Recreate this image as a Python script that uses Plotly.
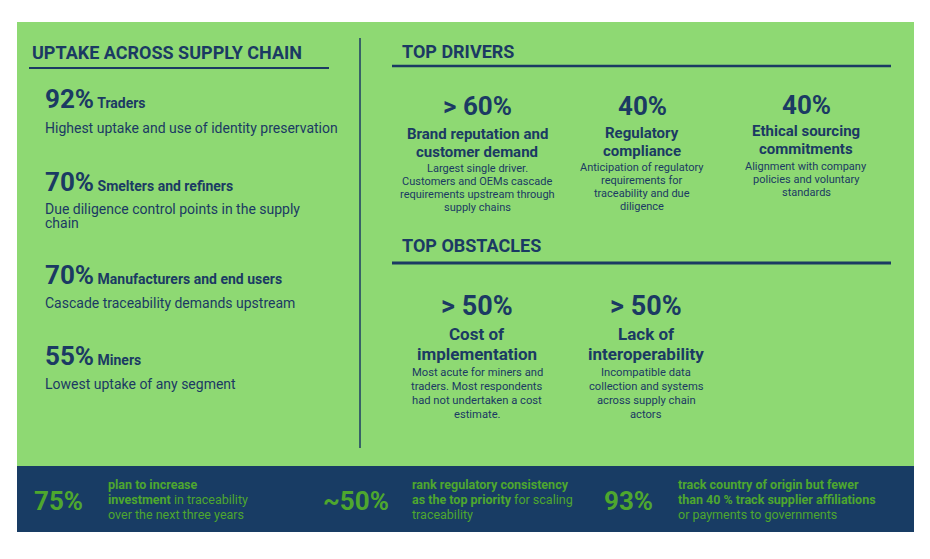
import plotly.graph_objects as go

# ---------------- data ----------------
uptake_pcts = ["92%", "70%", "70%", "55%"]
uptake_segments = ["Traders", "Smelters and refiners", "Manufacturers and end users", "Miners"]
uptake_notes = [
    "Highest uptake and use of identity preservation",
    "Due diligence control points in the supply\nchain",
    "Cascade traceability demands upstream",
    "Lowest uptake of any segment",
]

driver_pcts = ["> 60%", "40%", "40%"]
driver_titles = ["Brand reputation and\ncustomer demand", "Regulatory\ncompliance", "Ethical sourcing\ncommitments"]
driver_notes = [
    "Largest single driver.\nCustomers and OEMs cascade\nrequirements upstream through\nsupply chains",
    "Anticipation of regulatory\nrequirements for\ntraceability and due\ndiligence",
    "Alignment with company\npolicies and voluntary\nstandards",
]

obstacle_pcts = ["> 50%", "> 50%"]
obstacle_titles = ["Cost of\nimplementation", "Lack of\ninteroperability"]
obstacle_notes = [
    "Most acute for miners and\ntraders. Most respondents\nhad not undertaken a cost\nestimate.",
    "Incompatible data\ncollection and systems\nacross supply chain\nactors",
]

stat_values = ["75%", "~50%", "93%"]
stat_texts = [
    "<b>plan to increase</b>\n<b>investment</b> in traceability\nover the next three years",
    "<b>rank regulatory consistency</b>\n<b>as the top priority</b> for scaling\ntraceability",
    "<b>track country of origin but fewer</b>\n<b>than 40 % track supplier affiliations</b>\nor payments to governments",
]

section_titles = ["UPTAKE ACROSS SUPPLY CHAIN", "TOP DRIVERS", "TOP OBSTACLES"]

# ---------------- style ----------------
W, H = 930, 559
GREEN_BG = "#8ED973"
NAVY = "#1B3A63"
BAND = "#183C64"
BAND_GREEN = "#4EA72E"
FONT = "Roboto"

fig = go.Figure()
shapes = []
ann = []


def text(x, y, s, size, color=NAVY, bold=False, xanchor="left", family=FONT):
    if bold:
        s = "<b>" + s + "</b>"
    ann.append(dict(x=x, y=y, xref="x", yref="y", text=s, showarrow=False,
                    xanchor=xanchor, yanchor="middle", borderpad=0,
                    font=dict(family=family, size=size, color=color)))


def line(x0, y0, x1, y1, width, color=NAVY):
    shapes.append(dict(type="line", xref="x", yref="y", x0=x0, y0=y0, x1=x1, y1=y1,
                       line=dict(color=color, width=width)))


# backgrounds
shapes.append(dict(type="rect", xref="x", yref="y", x0=17, y0=22, x1=914, y1=466,
                   fillcolor=GREEN_BG, line=dict(width=0), layer="below"))
shapes.append(dict(type="rect", xref="x", yref="y", x0=17, y0=466, x1=914, y1=532,
                   fillcolor=BAND, line=dict(width=0), layer="below"))

# dividers
line(360, 38, 360, 448, 1.5)
line(29, 68, 329, 68, 2)
line(392, 66, 891, 66, 2.5)
line(392, 263, 891, 263, 3)

# section titles
text(31, 52, section_titles[0], 18, bold=True)
text(401, 51, section_titles[1], 18, bold=True)
text(401, 245, section_titles[2], 18, bold=True)

# uptake column
row_y = [99, 182, 275, 356]
note_y = [128, 208.5, 303, 384]
for i in range(len(uptake_pcts)):
    s = ("<b><span style='font-size:26px'>" + uptake_pcts[i] + "</span> "
         + uptake_segments[i] + "</b>")
    text(44, row_y[i], s, 14)
    for j, ln in enumerate(uptake_notes[i].split("\n")):
        text(44, note_y[i] + j * 14, ln, 14)

# drivers
drv_x = [477, 642, 806]
drv_pct_y = [106, 106, 105]
drv_title_y = [134, 133, 131]
drv_note_y = [168, 167, 166]
for i in range(len(driver_pcts)):
    text(drv_x[i], drv_pct_y[i], driver_pcts[i], 26, bold=True, xanchor="center")
    for j, ln in enumerate(driver_titles[i].split("\n")):
        text(drv_x[i], drv_title_y[i] + j * 18, ln, 15, bold=True, xanchor="center")
    for j, ln in enumerate(driver_notes[i].split("\n")):
        text(drv_x[i], drv_note_y[i] + j * 13.3, ln, 11, xanchor="center")

# obstacles
obs_x = [477, 646]
for i in range(len(obstacle_pcts)):
    text(obs_x[i], 306, obstacle_pcts[i], 27, bold=True, xanchor="center")
    for j, ln in enumerate(obstacle_titles[i].split("\n")):
        text(obs_x[i], 334 + j * 20, ln, 17, bold=True, xanchor="center")
    for j, ln in enumerate(obstacle_notes[i].split("\n")):
        text(obs_x[i], 372 + j * 14, ln, 11.2, xanchor="center")

# bottom band
val_x = [33, 322, 603]
txt_x = [107, 411, 677]
for i in range(len(stat_values)):
    text(val_x[i], 501, stat_values[i], 26, color=BAND_GREEN, bold=True)
    for j, ln in enumerate(stat_texts[i].split("\n")):
        text(txt_x[i], 484 + j * 15, ln, 12.5, color=BAND_GREEN)

fig.update_layout(
    width=W, height=H,
    margin=dict(l=0, r=0, t=0, b=0),
    paper_bgcolor="white", plot_bgcolor="white",
    xaxis=dict(range=[0, W], visible=False, fixedrange=True),
    yaxis=dict(range=[H, 0], visible=False, fixedrange=True),
    shapes=shapes, annotations=ann, showlegend=False,
)
fig.write_html("out.html", config={"displayModeBar": False},
               post_script="document.body.style.margin='0px';document.body.style.overflow='hidden';")
